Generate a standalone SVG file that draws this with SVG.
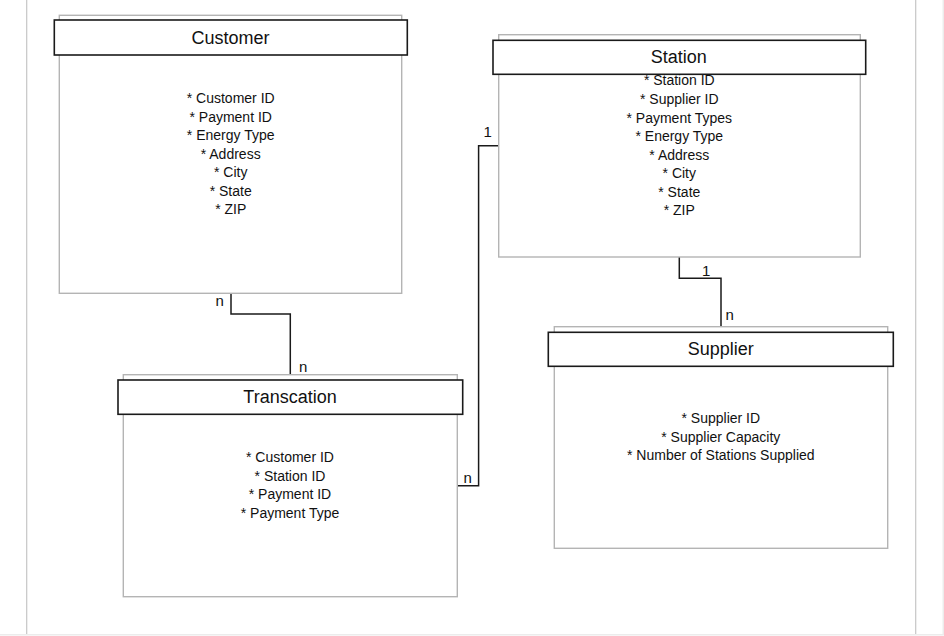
<svg xmlns="http://www.w3.org/2000/svg" width="944" height="636" viewBox="0 0 944 636">
  <style>
    .page { stroke: #c6c6c6; stroke-width: 1.2; fill: none; }
    .edge-faint { stroke: #ececec; stroke-width: 1.5; fill: none; }
    .body { fill: #ffffff; stroke: #b4b4b4; stroke-width: 1.4; }
    .head { fill: #ffffff; stroke: #1a1a1a; stroke-width: 1.6; }
    .title { font-family: "Liberation Sans", Arial, sans-serif; font-size: 18px; fill: #111; text-anchor: middle; }
    .attr { font-family: "Liberation Sans", Arial, sans-serif; font-size: 14px; fill: #111; text-anchor: middle; }
    .card { font-family: "Liberation Sans", Arial, sans-serif; font-size: 15px; fill: #111; }
    .wire { fill: none; stroke: #1a1a1a; stroke-width: 1.5; }
  </style>

  <rect x="0" y="0" width="944" height="636" fill="#ffffff"/>

  <!-- page margins -->
  <line class="page" x1="26.7" y1="0" x2="26.7" y2="634"/>
  <line class="page" x1="915.7" y1="0" x2="915.7" y2="634"/>
  <line class="edge-faint" x1="943.3" y1="0" x2="943.3" y2="634"/>
  <line class="edge-faint" x1="0" y1="634.8" x2="944" y2="634.8"/>

  <!-- relationship lines -->
  <g id="connectors">
    <polyline class="wire" points="231,293.5 231,314 290.3,314 290.3,374.7"/>
    <polyline class="wire" points="457.3,485.7 478.6,485.7 478.6,145.7 498.7,145.7"/>
    <polyline class="wire" points="679.3,257 679.3,278.3 721,278.3 721,326.7"/>
    <text class="card" x="215.5" y="306">n</text>
    <text class="card" x="299" y="372">n</text>
    <text class="card" x="463.5" y="483">n</text>
    <text class="card" x="483.5" y="137">1</text>
    <text class="card" x="702" y="275.5">1</text>
    <text class="card" x="725.5" y="320">n</text>
  </g>

  <g id="customer">
    <rect class="body" x="59.3" y="15.3" width="342.4" height="278"/>
    <rect class="head" x="54.3" y="20" width="353" height="35"/>
    <text class="title" x="230.5" y="43.5">Customer</text>
    <text class="attr" x="230.7" y="103">* Customer ID</text>
    <text class="attr" x="230.7" y="121.5">* Payment ID</text>
    <text class="attr" x="230.7" y="140">* Energy Type</text>
    <text class="attr" x="230.7" y="158.5">* Address</text>
    <text class="attr" x="230.7" y="177">* City</text>
    <text class="attr" x="230.7" y="195.5">* State</text>
    <text class="attr" x="230.7" y="214">* ZIP</text>
  </g>

  <g id="station">
    <rect class="body" x="498.7" y="34.7" width="361.6" height="222.3"/>
    <rect class="head" x="493" y="40.3" width="372.7" height="34"/>
    <text class="title" x="678.7" y="63">Station</text>
    <text class="attr" x="679.3" y="85.3">* Station ID</text>
    <text class="attr" x="679.3" y="104">* Supplier ID</text>
    <text class="attr" x="679.3" y="122.7">* Payment Types</text>
    <text class="attr" x="679.3" y="141">* Energy Type</text>
    <text class="attr" x="679.3" y="159.7">* Address</text>
    <text class="attr" x="679.3" y="178.3">* City</text>
    <text class="attr" x="679.3" y="196.7">* State</text>
    <text class="attr" x="679.3" y="215">* ZIP</text>
  </g>

  <g id="transaction">
    <rect class="body" x="123.3" y="374.7" width="334" height="222"/>
    <rect class="head" x="118" y="380" width="344.7" height="34.3"/>
    <text class="title" x="290" y="402.5">Transcation</text>
    <text class="attr" x="290" y="462">* Customer ID</text>
    <text class="attr" x="290" y="480.5">* Station ID</text>
    <text class="attr" x="290" y="499">* Payment ID</text>
    <text class="attr" x="290" y="517.5">* Payment Type</text>
  </g>

  <g id="supplier">
    <rect class="body" x="554.3" y="326.7" width="333.4" height="221.6"/>
    <rect class="head" x="548.3" y="332.3" width="345" height="34"/>
    <text class="title" x="720.7" y="354.5">Supplier</text>
    <text class="attr" x="720.8" y="423">* Supplier ID</text>
    <text class="attr" x="720.8" y="441.5">* Supplier Capacity</text>
    <text class="attr" x="720.8" y="460">* Number of Stations Supplied</text>
  </g>
</svg>
